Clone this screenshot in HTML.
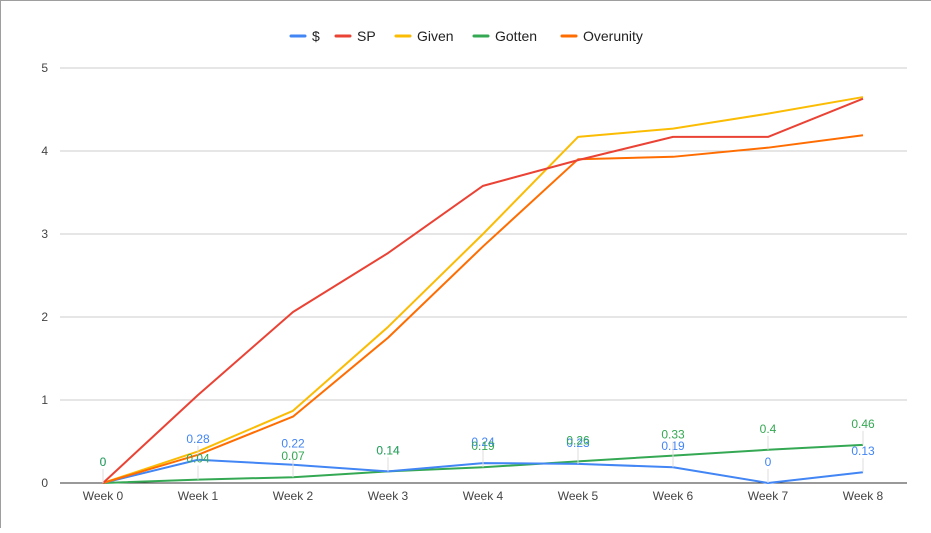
<!DOCTYPE html>
<html><head><meta charset="utf-8"><style>
body{margin:0;background:#fff;font-family:"Liberation Sans",Arial,sans-serif}
svg text{font-family:"Liberation Sans",Arial,sans-serif}
</style></head><body>
<svg id="chart" width="931" height="528" xmlns="http://www.w3.org/2000/svg">
<rect x="0" y="0" width="931" height="528" fill="#fff"/>
<line x1="0" y1="0.5" x2="931" y2="0.5" stroke="#9e9e9e" stroke-width="1"/>
<line x1="0.5" y1="0" x2="0.5" y2="528" stroke="#9e9e9e" stroke-width="1"/>
<g id="grid"></g><g id="axes"></g><g id="series"></g><g id="labels"></g><g id="legend"></g>
</svg>
<script>
const categories=["Week 0","Week 1","Week 2","Week 3","Week 4","Week 5","Week 6","Week 7","Week 8"];
const dollar=[0,0.28,0.22,0.14,0.24,0.23,0.19,0,0.13];
const sp=[0,1.06,2.06,2.77,3.58,3.89,4.17,4.17,4.63];
const given=[0,0.38,0.87,1.88,3.0,4.17,4.27,4.45,4.65];
const gotten=[0,0.04,0.07,0.14,0.19,0.26,0.33,0.4,0.46];
const overunity=[0,0.34,0.8,1.75,2.85,3.9,3.93,4.04,4.19];
const yTicks=[0,1,2,3,4,5];
const seriesNames=["$","SP","Given","Gotten","Overunity"];
const colors=["#4285f4","#ea4335","#fbbc04","#34a853","#ff6d01"];
const NS="http://www.w3.org/2000/svg";
const x=i=>103+i*95;
const y=v=>483-v*83;
function mk(t,a,p){const e=document.createElementNS(NS,t);for(const k in a)e.setAttribute(k,a[k]);p.appendChild(e);return e;}
const grid=document.getElementById('grid');
yTicks.forEach(t=>{
  const l=mk('line',{x1:60,x2:907,y1:y(t),y2:y(t),stroke:t===0?'#333':'#ccc','stroke-width':1},grid);
  
  
  const tx=mk('text',{x:48,y:y(t)+4,'text-anchor':'end','font-size':12,fill:'#444'},grid);
  tx.textContent=t;
  
  
});
const axes=document.getElementById('axes');
categories.forEach((c,i)=>{
  const tx=mk('text',{x:x(i),y:500,'text-anchor':'middle','font-size':12,fill:'#444'},axes);
  tx.textContent=c;
  
  
});
const data=[dollar,sp,given,gotten,overunity];
const sg=document.getElementById('series');
const order=[3,0,2,4,1];
order.forEach(s=>{
  const pts=data[s].map((v,i)=>x(i)+','+y(v)).join(' ');
  const p=mk('polyline',{points:pts,fill:'none',stroke:colors[s],'stroke-width':2,'stroke-linejoin':'round'},sg);
  
  
});
const lg=document.getElementById('labels');
[[dollar,colors[0]],[gotten,colors[3]]].forEach(([arr,col])=>{
  arr.forEach((v,i)=>{
    mk('line',{x1:x(i),x2:x(i),y1:y(v),y2:y(v)-14,stroke:'#ddd','stroke-width':1},lg);
    const tx=mk('text',{x:x(i),y:y(v)-17,'text-anchor':'middle','font-size':12,fill:col},lg);
    tx.textContent=v;
    
    
  });
});
const leg=document.getElementById('legend');
let lx=291;
const widths=[45,60,78,88,100];
seriesNames.forEach((n,i)=>{
  const g=mk('g',{},leg);
  
  
  mk('line',{x1:lx,x2:lx+14,y1:36,y2:36,stroke:colors[i],'stroke-width':3,'stroke-linecap':'round'},g);
  const t=mk('text',{x:lx+21,y:41,'font-size':14,fill:'#222'},g);
  t.textContent=n;
  lx+=widths[i];
});
</script>
</body></html>
